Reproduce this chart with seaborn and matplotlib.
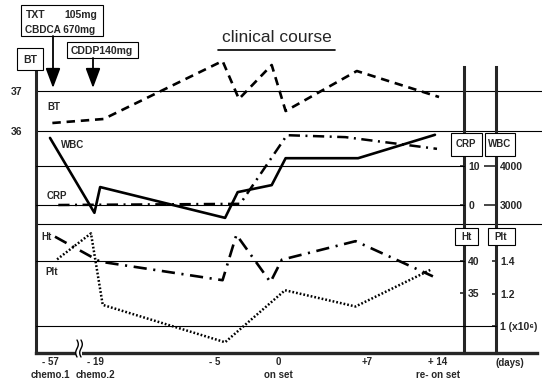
import numpy as np
import matplotlib
matplotlib.use("Agg")
import matplotlib.pyplot as plt
from matplotlib.patches import Rectangle, FancyArrowPatch
from matplotlib.lines import Line2D
import seaborn as sns

# days relative to onset
bt_day = [-55, -18, -4.4, -3.1, -0.5, 0.6, 6.2, 14.1]
bt_temp = [36.2, 36.3, 37.75, 36.8, 37.65, 36.5, 37.5, 36.85]

wbc_day = [-57, -19.5, -18.4, -4.2, -3.2, -0.5, 0.6, 6.3, 13.7]
wbc_count = [4720, 2800, 3460, 2670, 3330, 3510, 4200, 4200, 4800]

crp_day = [-50, -3.0, 0.7, 5.3, 13.9]
crp_val = [0, 0.3, 17.9, 17.4, 14.4]

ht_day = [-52.8, -18.4, -4.4, -3.3, -0.6, 0.3, 6.1, 13.5]
ht_val = [43.8, 39.9, 37.0, 44.1, 36.7, 40.2, 43.1, 37.6]

plt_day = [-51, -22.4, -18.1, -4.2, 0.55, 6.1, 13.4]
plt_val = [1.41, 1.57, 1.13, 0.90, 1.22, 1.12, 1.35]

tick_days = [-57, -19, -5, 0, 7, 14]
tick_labels = ["- 57\nchemo.1", "- 19\nchemo.2", "- 5\n", "0\non set", "+7\n", "+ 14\nre- on set"]

sns.set_style("white")
plt.rcParams["font.family"] = ["Liberation Sans", "DejaVu Sans"]
plt.rcParams["font.weight"] = "bold"

W, H = 542, 383
TOP, BOTTOM, LEFT, RIGHT = 55, 353, 36, 542


def fxy(x, y):
    return x / W, 1 - y / H


def ylim_from(v1, row1, v2, row2):
    k = (v1 - v2) / (row2 - row1)
    return v2 - (BOTTOM - row2) * k, v1 + (row1 - TOP) * k


def row_value(lims, row):
    lo, hi = lims
    return hi - (row - TOP) / (BOTTOM - TOP) * (hi - lo)


# broken, uneven time axis
anchor_days = [-200, -57, -19, -5, 0, 7, 14, 100]
anchor_pos = [-169, 0, 45, 165, 228, 317, 388, 1260]


def fwd(d):
    return np.interp(d, anchor_days, anchor_pos)


def inv(p):
    return np.interp(p, anchor_pos, anchor_days)


fig = plt.figure(figsize=(W / 100, H / 100), dpi=100)
ax = fig.add_axes([LEFT / W, 1 - BOTTOM / H, (RIGHT - LEFT) / W, (BOTTOM - TOP) / H])
ax.set_xscale("function", functions=(fwd, inv))
ax.set_xlim(inv(LEFT - 50), inv(RIGHT - 50))

ax_crp = ax.twinx()
ax_wbc = ax.twinx()
ax_ht = ax.twinx()
ax_plt = ax.twinx()

lim_bt = ylim_from(37, 91, 36, 131)
lim_wbc = ylim_from(4000, 166, 3000, 205)
lim_crp = ylim_from(10, 166, 0, 205)
lim_ht = ylim_from(40, 261, 35, 293)
lim_plt = ylim_from(1.4, 261, 1.0, 326)
ax.set_ylim(*lim_bt)
ax_wbc.set_ylim(*lim_wbc)
ax_crp.set_ylim(*lim_crp)
ax_ht.set_ylim(*lim_ht)
ax_plt.set_ylim(*lim_plt)

crp_x = (464 - LEFT) / (RIGHT - LEFT)
wbc_x = (496 - LEFT) / (RIGHT - LEFT)

# reference lines
grid_kw = dict(color="black", lw=0.8, zorder=1)
ax.axhline(37, **grid_kw)
ax.axhline(36, **grid_kw)
ax.add_line(Line2D([0, 1], [(BOTTOM - 224) / (BOTTOM - TOP)] * 2, transform=ax.transAxes, **grid_kw))
ax_wbc.axhline(4000, xmax=crp_x, **grid_kw)
ax_wbc.axhline(3000, xmax=crp_x, **grid_kw)
ax_ht.axhline(40, xmax=crp_x, **grid_kw)
ax_plt.axhline(1.0, xmax=wbc_x, **grid_kw)

# series
sns.lineplot(x=bt_day, y=bt_temp, ax=ax, color="black", lw=1.9,
             linestyle=(0, (3.2, 2.2)), sort=False, estimator=None)
sns.lineplot(x=wbc_day, y=wbc_count, ax=ax_wbc, color="black", lw=1.9,
             sort=False, estimator=None)
sns.lineplot(x=crp_day, y=crp_val, ax=ax_crp, color="black", lw=1.8,
             linestyle=(0, (4.5, 2.2, 0.8, 2.2)), sort=False, estimator=None)
sns.lineplot(x=ht_day, y=ht_val, ax=ax_ht, color="black", lw=1.9,
             linestyle=(0, (5, 2.5, 0.8, 2.5)), sort=False, estimator=None)
sns.lineplot(x=plt_day, y=plt_val, ax=ax_plt, color="black", lw=1.8,
             linestyle=(0, (0.7, 0.8)), sort=False, estimator=None)

for a in (ax, ax_crp, ax_wbc, ax_ht, ax_plt):
    a.set_xlabel("")
    a.set_ylabel("")

# spines
for a in (ax_crp, ax_wbc, ax_ht, ax_plt):
    for s in a.spines.values():
        s.set_visible(False)
ax.spines["top"].set_visible(False)
ax.spines["right"].set_visible(False)
ax.spines["left"].set_linewidth(2.2)
ax.spines["bottom"].set_linewidth(2.4)
ax.spines["bottom"].set_bounds(inv(LEFT - 50), inv(537 - 50))

for a, pos in ((ax_crp, crp_x), (ax_ht, crp_x), (ax_wbc, wbc_x), (ax_plt, wbc_x)):
    a.spines["right"].set_position(("axes", pos))
for a, lims in ((ax_crp, lim_crp), (ax_wbc, lim_wbc)):
    a.spines["right"].set_visible(True)
    a.spines["right"].set_linewidth(2.2)
    a.spines["right"].set_bounds(lims[0], row_value(lims, 67))

# ticks
ax.set_xticks(tick_days, tick_labels)
ax.tick_params(axis="x", length=0, pad=3, labelsize=7)
for lbl in ax.get_xticklabels():
    lbl.set_linespacing(1.3)
ax.set_yticks([36, 37])
ax.tick_params(axis="y", length=0, pad=10, labelsize=7.5)

ax_crp.set_yticks([0, 10])
ax_ht.set_yticks([35, 40])
ax_wbc.set_yticks([3000, 4000], ["3000", "4000"])
ax_plt.set_yticks([1.0, 1.2, 1.4], ["1 (x10⁶)", "1.2", "1.4"])
for a in (ax_crp, ax_ht, ax_plt):
    a.tick_params(axis="y", direction="in", length=3, width=1.2, pad=3, labelsize=7.5)
ax_wbc.tick_params(axis="y", direction="in", length=9, width=1.2, pad=3, labelsize=7.5)

# annotations
def box(x0, y0, x1, y1):
    fx, fy = fxy(x0, y1)
    fig.add_artist(Rectangle((fx, fy), (x1 - x0) / W, (y1 - y0) / H, transform=fig.transFigure,
                             facecolor="white", edgecolor="black", lw=0.8, zorder=5))


def label(x, y, s, size=7, ha="center"):
    fx, fy = fxy(x, y)
    fig.text(fx, fy, s, ha=ha, va="center", fontsize=size, zorder=6)


def arrow(x, y0, y1):
    fig.add_artist(FancyArrowPatch(fxy(x, y0), fxy(x, y1), transform=fig.transFigure,
                                   arrowstyle="-|>,head_length=1.2,head_width=0.45",
                                   mutation_scale=10, lw=1.3, color="black",
                                   shrinkA=0, shrinkB=0, zorder=6))


box(21, 5, 103, 36)
label(26, 15, "TXT", 7.5, "left")
label(97, 15, "105mg", 7.5, "right")
label(25, 30, "CBDCA 670mg", 7.2, "left")
arrow(53, 36, 88)

box(67, 42, 138, 58)
label(102, 51, "CDDP140mg", 7.5)
arrow(93, 58, 88)

box(17, 48, 43, 70)
label(30, 60, "BT", 7.5)

box(451, 133, 482, 156)
label(466, 144, "CRP")
box(485, 133, 515, 156)
label(500, 144, "WBC")
box(455, 228, 478, 245)
label(466, 237, "Ht")
box(488, 228, 515, 245)
label(501, 237, "Plt")

label(54, 107, "BT")
label(73, 145, "WBC")
label(57, 196, "CRP")
label(47, 237, "Ht")
label(52, 272, "Plt")
label(510, 363, "(days)")

tx, ty = fxy(277, 38)
fig.text(tx, ty, "clinical course", ha="center", va="center", fontsize=12.5, fontweight="normal")
fig.add_artist(Line2D([218 / W, 335 / W], [1 - 50 / H] * 2, transform=fig.transFigure,
                      color="black", lw=1.2))

# axis break mark
bx, by = fxy(76, 357)
fig.add_artist(Rectangle((bx, by), 6 / W, 8 / H, transform=fig.transFigure,
                         facecolor="white", edgecolor="none", zorder=5))
yy = np.linspace(340, 357, 25)
for x0 in (77, 81):
    xx = x0 + 1.3 * np.sin((yy - 340) / 17 * 2 * np.pi)
    fig.add_artist(Line2D(xx / W, 1 - yy / H, transform=fig.transFigure,
                          color="black", lw=1.0, zorder=6))

fig.savefig("out.png", dpi=100)
